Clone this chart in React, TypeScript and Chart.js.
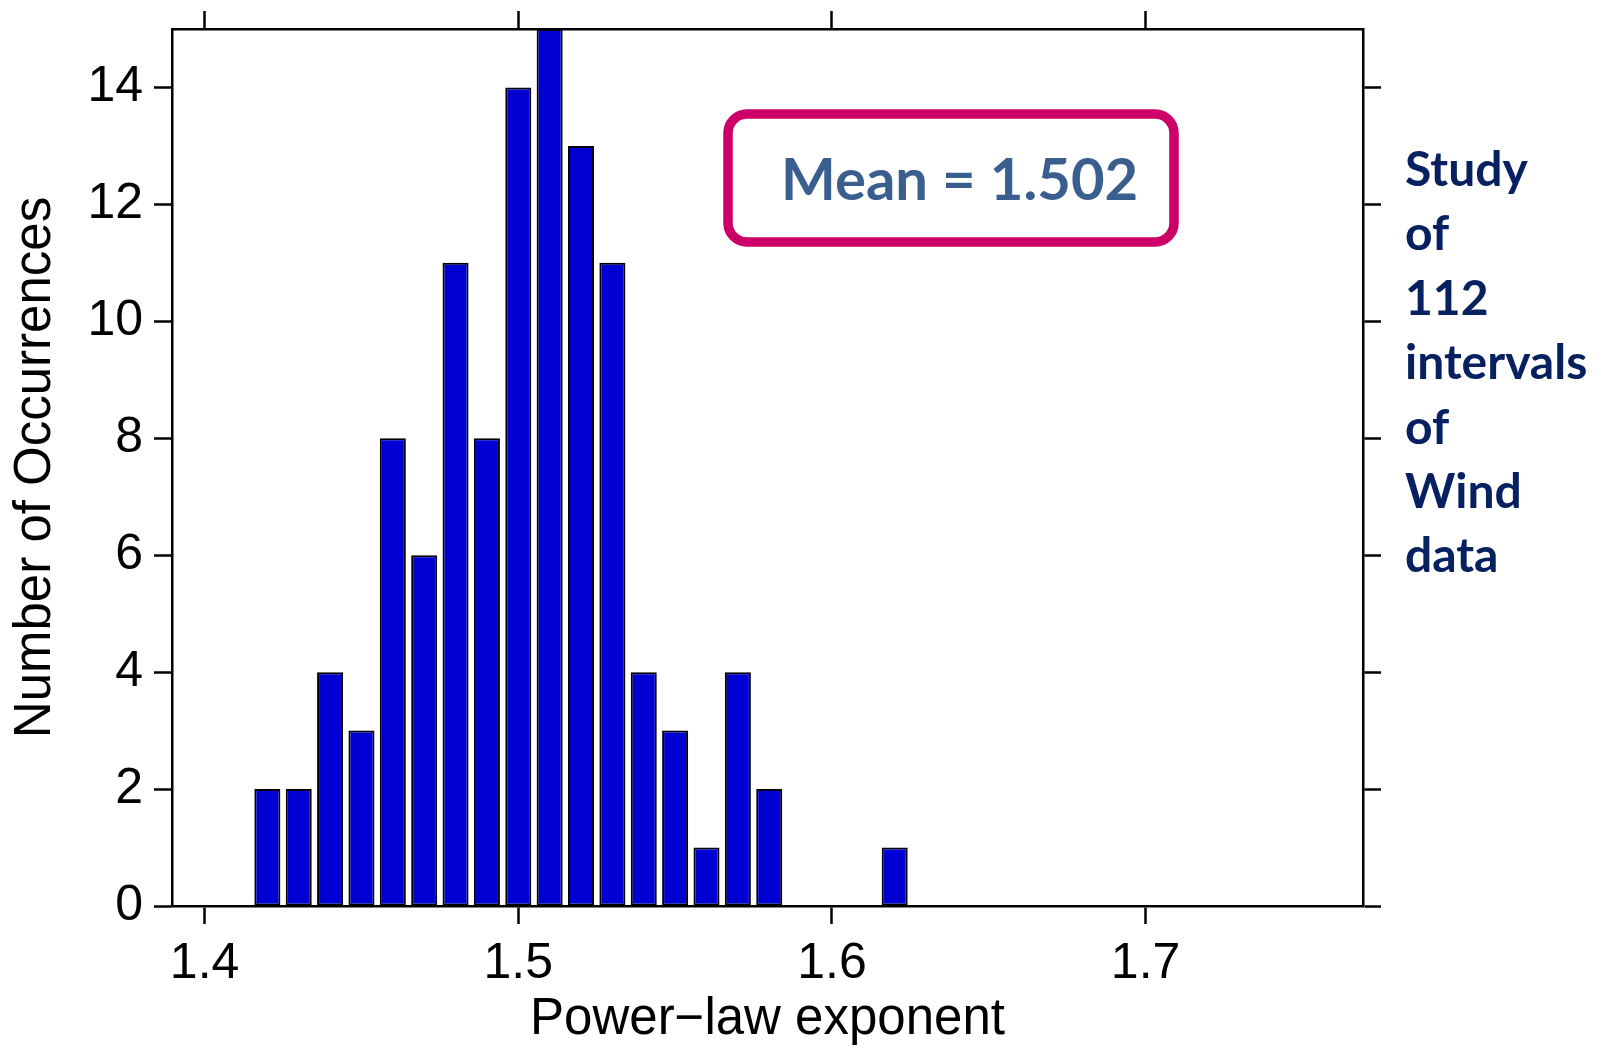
import React, { useEffect, useRef } from 'react';
import { Chart, registerables } from 'chart.js';

Chart.register(...registerables);

// ---- data ----
const binCenters = [1.42, 1.43, 1.44, 1.45, 1.46, 1.47, 1.48, 1.49, 1.5, 1.51, 1.52, 1.53, 1.54, 1.55, 1.56, 1.57, 1.58, 1.59, 1.6, 1.61, 1.62];
const counts = [2, 2, 4, 3, 8, 6, 11, 8, 14, 15, 13, 11, 4, 3, 1, 4, 2, 0, 0, 0, 1];
const xTicks = [1.4, 1.5, 1.6, 1.7];
const yTicks = [0, 2, 4, 6, 8, 10, 12, 14];
const xRange = [1.3896, 1.7693];
const yRange = [0, 15];
const xTitle = 'Power\u2212law exponent';
const yTitle = 'Number of Occurrences';
const meanLabel = 'Mean = 1.502';
const noteLines = ['Study', 'of', '112', 'intervals', 'of', 'Wind', 'data'];

const AXIS_FONT = "'Liberation Sans', Arial, Helvetica, sans-serif";
const NOTE_FONT = "Lato, 'Open Sans', sans-serif";

const notesPlugin = {
  id: 'notes',
  afterDraw(chart: any) {
    const ctx = chart.ctx as CanvasRenderingContext2D;
    ctx.save();
    // rounded box
    const bx = 728, by = 114, bw = 446, bh = 128, r = 19;
    ctx.beginPath();
    ctx.moveTo(bx + r, by);
    ctx.lineTo(bx + bw - r, by);
    ctx.arcTo(bx + bw, by, bx + bw, by + r, r);
    ctx.lineTo(bx + bw, by + bh - r);
    ctx.arcTo(bx + bw, by + bh, bx + bw - r, by + bh, r);
    ctx.lineTo(bx + r, by + bh);
    ctx.arcTo(bx, by + bh, bx, by + bh - r, r);
    ctx.lineTo(bx, by + r);
    ctx.arcTo(bx, by, bx + r, by, r);
    ctx.closePath();
    ctx.lineWidth = 9.5;
    ctx.strokeStyle = '#CC0066';
    ctx.stroke();

    ctx.font = `bold 58px ${NOTE_FONT}`;
    ctx.fillStyle = '#3A5F8E';
    ctx.textAlign = 'left';
    ctx.textBaseline = 'alphabetic';
    ctx.fillText(meanLabel, 781, 200);

    ctx.font = `bold 48px ${NOTE_FONT}`;
    ctx.fillStyle = '#062060';
    noteLines.forEach((line, i) => {
      ctx.fillText(line, 1405, 186 + i * 64.4);
    });
    ctx.restore();
  },
};

export default function App() {
  const canvasRef = useRef<HTMLCanvasElement | null>(null);

  useEffect(() => {
    if (!canvasRef.current) return;
    const data = binCenters.map((x, i) => ({ x, y: counts[i] === 0 ? null : counts[i] }));

    const gridCommon = {
      display: true,
      drawOnChartArea: false,
      drawTicks: true,
      tickLength: 18,
      tickWidth: 2.5,
      tickColor: '#000',
      offset: false,
    };
    const borderCommon = { display: true, color: '#000', width: 2.5 };
    const setXTicks = (s: any) => {
      s.ticks = xTicks.map((v) => ({ value: v }));
    };
    const setYTicks = (s: any) => {
      s.ticks = yTicks.map((v) => ({ value: v }));
    };

    const chart = new Chart(canvasRef.current, {
      type: 'bar',
      data: {
        datasets: [
          {
            data: data as any,
            backgroundColor: '#0000D4',
            borderColor: '#000',
            borderWidth: 2,
            borderSkipped: false,
            categoryPercentage: 1,
            barPercentage: 0.83,
          } as any,
        ],
      },
      options: {
        responsive: false,
        animation: false,
        devicePixelRatio: 1,
        layout: { padding: 0 },
        plugins: { legend: { display: false }, tooltip: { enabled: false } },
        scales: {
          x: {
            type: 'linear',
            position: 'bottom',
            min: xRange[0],
            max: xRange[1],
            offset: false,
            afterBuildTicks: setXTicks,
            afterFit: (s: any) => {
              s.height = 145;
              s.paddingLeft = 0;
              s.paddingRight = 0;
            },
            grid: gridCommon,
            border: borderCommon,
            ticks: {
              font: { family: AXIS_FONT, size: 50 },
              color: '#000',
              padding: 10,
              maxRotation: 0,
              autoSkip: false,
              callback: (v: any) => Number(v).toFixed(1),
            },
            title: {
              display: true,
              text: xTitle,
              font: { family: AXIS_FONT, size: 51 },
              color: '#000',
              padding: 0,
            },
          },
          x2: {
            type: 'linear',
            position: 'top',
            min: xRange[0],
            max: xRange[1],
            offset: false,
            afterBuildTicks: setXTicks,
            afterFit: (s: any) => {
              s.height = 29;
              s.paddingLeft = 0;
              s.paddingRight = 0;
            },
            grid: gridCommon,
            border: borderCommon,
            ticks: { display: false },
          },
          y: {
            type: 'linear',
            position: 'left',
            min: yRange[0],
            max: yRange[1],
            afterBuildTicks: setYTicks,
            afterFit: (s: any) => {
              s.width = 172;
              s.paddingTop = 0;
              s.paddingBottom = 0;
            },
            grid: gridCommon,
            border: borderCommon,
            ticks: {
              font: { family: AXIS_FONT, size: 50 },
              color: '#000',
              padding: 11,
              autoSkip: false,
            },
            title: {
              display: true,
              text: yTitle,
              font: { family: AXIS_FONT, size: 51 },
              color: '#000',
              padding: 5,
            },
          },
          y2: {
            type: 'linear',
            position: 'right',
            min: yRange[0],
            max: yRange[1],
            afterBuildTicks: setYTicks,
            afterFit: (s: any) => {
              s.width = 238;
              s.paddingTop = 0;
              s.paddingBottom = 0;
            },
            grid: gridCommon,
            border: borderCommon,
            ticks: { display: false },
          },
        },
      } as any,
      plugins: [notesPlugin],
    });
    return () => chart.destroy();
  }, []);

  return (
    <div style={{ position: 'absolute', left: 0, top: 0, width: 1601, height: 1051, background: '#fff' }}>
      <canvas ref={canvasRef} width={1601} height={1051} style={{ display: 'block', width: 1601, height: 1051 }} />
    </div>
  );
}
